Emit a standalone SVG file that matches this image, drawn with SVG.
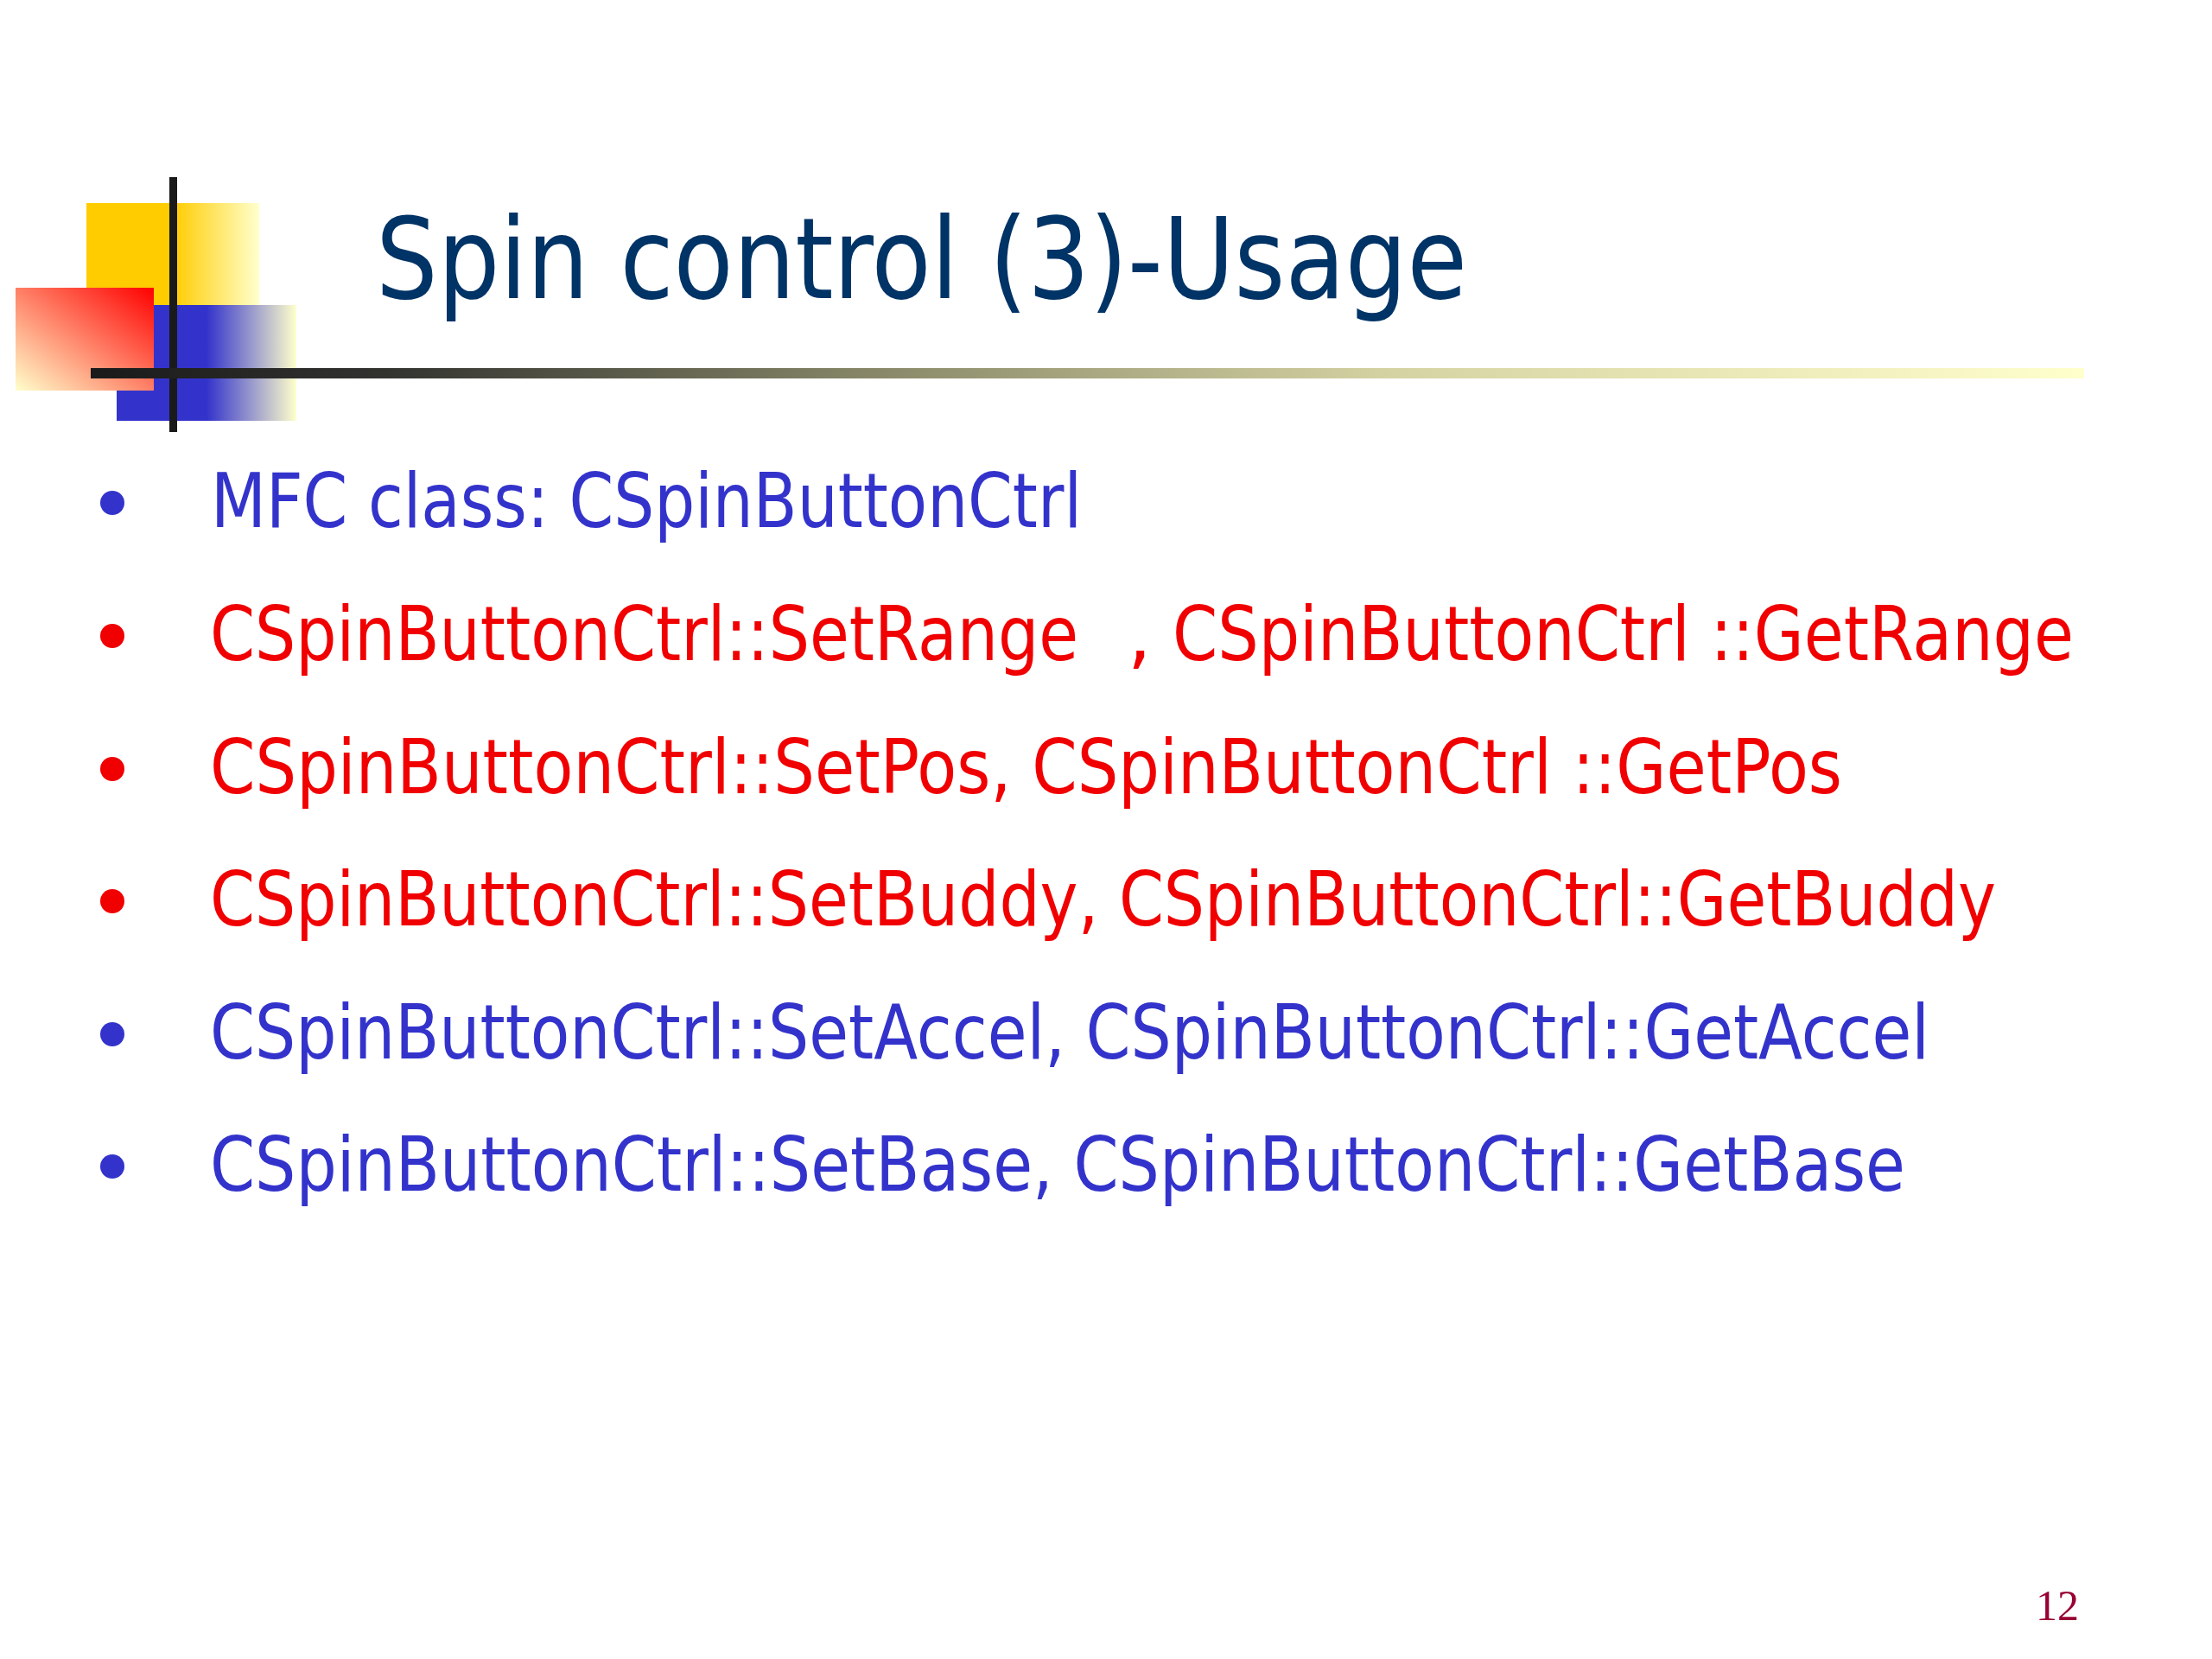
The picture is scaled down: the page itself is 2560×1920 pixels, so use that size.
<svg xmlns="http://www.w3.org/2000/svg" width="2560" height="1920" viewBox="0 0 2560 1920">
<style>
.title{font-family:"DejaVu Sans","Verdana",sans-serif;font-size:130px;fill:#003366}
.body{font-family:"DejaVu Sans","Verdana",sans-serif;font-size:87px}
.blue{fill:#3333CC}
.red{fill:#F00000}
.pg{font-family:"Liberation Serif","Times New Roman",serif;font-size:50px;fill:#990033}
</style>
<defs>
<linearGradient id="gYellow" x1="0" y1="0" x2="1" y2="0">
<stop offset="0" stop-color="#FFCC00"/>
<stop offset="0.5" stop-color="#FFCC00"/>
<stop offset="1" stop-color="#FFFFCC"/>
</linearGradient>
<linearGradient id="gBlue" x1="0" y1="0" x2="1" y2="0">
<stop offset="0" stop-color="#3333CC"/>
<stop offset="0.5" stop-color="#3333CC"/>
<stop offset="1" stop-color="#FFFFCC"/>
</linearGradient>
<linearGradient id="gRed" x1="1" y1="0" x2="0" y2="1">
<stop offset="0" stop-color="#FF0000"/>
<stop offset="1" stop-color="#FFFFCC"/>
</linearGradient>
<linearGradient id="gLine" gradientUnits="userSpaceOnUse" x1="105" y1="0" x2="2412" y2="0">
<stop offset="0" stop-color="#1a1a1a"/>
<stop offset="0.15" stop-color="#333330"/>
<stop offset="0.4" stop-color="#8a8a6a"/>
<stop offset="0.65" stop-color="#d4d2a2"/>
<stop offset="1" stop-color="#FFFFCC"/>
</linearGradient>
</defs>
<rect width="2560" height="1920" fill="#FFFFFF"/>
<g id="logo">
<rect x="100" y="235" width="200" height="130" fill="url(#gYellow)"/>
<rect x="135" y="353" width="208" height="134" fill="url(#gBlue)"/>
<rect x="18" y="333" width="160" height="119" fill="url(#gRed)"/>
<rect x="196" y="205" width="9" height="295" fill="#1a1a1a"/>
</g>
<g id="title-rule">
<rect x="105" y="426" width="2307" height="12" fill="url(#gLine)"/>
</g>
<g id="title">
<text class="title" x="435" y="345" textLength="1263" lengthAdjust="spacingAndGlyphs">Spin control (3)-Usage</text>
</g>
<g id="bullets">
<g id="item1">
<circle cx="130" cy="582" r="14" class="blue"/>
<text class="body blue" x="244" y="610" textLength="1008" lengthAdjust="spacingAndGlyphs">MFC class: CSpinButtonCtrl</text>
</g>
<g id="item2">
<circle cx="130" cy="736" r="14" class="red"/>
<text class="body red" x="243" y="764" textLength="1005" lengthAdjust="spacingAndGlyphs">CSpinButtonCtrl::SetRange</text>
<text class="body red" x="1305" y="764">,</text>
<text class="body red" x="1357" y="764" textLength="1043" lengthAdjust="spacingAndGlyphs">CSpinButtonCtrl ::GetRange</text>
</g>
<g id="item3">
<circle cx="130" cy="890" r="14" class="red"/>
<text class="body red" x="243" y="918" textLength="1889" lengthAdjust="spacingAndGlyphs">CSpinButtonCtrl::SetPos, CSpinButtonCtrl ::GetPos</text>
</g>
<g id="item4">
<circle cx="130" cy="1043" r="14" class="red"/>
<text class="body red" x="243" y="1071" textLength="2067" lengthAdjust="spacingAndGlyphs">CSpinButtonCtrl::SetBuddy, CSpinButtonCtrl::GetBuddy</text>
</g>
<g id="item5">
<circle cx="130" cy="1197" r="14" class="blue"/>
<text class="body blue" x="243" y="1225" textLength="1990" lengthAdjust="spacingAndGlyphs">CSpinButtonCtrl::SetAccel, CSpinButtonCtrl::GetAccel</text>
</g>
<g id="item6">
<circle cx="130" cy="1350" r="14" class="blue"/>
<text class="body blue" x="243" y="1378" textLength="1962" lengthAdjust="spacingAndGlyphs">CSpinButtonCtrl::SetBase, CSpinButtonCtrl::GetBase</text>
</g>
</g>
<g id="page-number">
<text class="pg" x="2356" y="1875">12</text>
</g>
<g id="connectors"/>
</svg>
